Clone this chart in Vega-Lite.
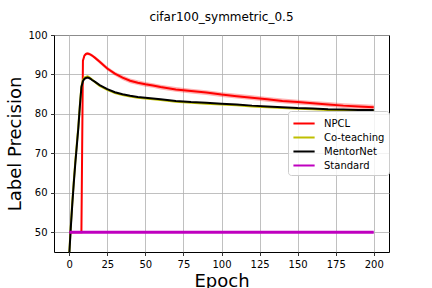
{
  "$schema": "https://vega.github.io/schema/vega-lite/v6.json",
  "width": 335,
  "height": 217,
  "autosize": {"type": "none"},
  "padding": {"left": 54, "top": 35, "right": 43, "bottom": 36},
  "title": {"text": "cifar100_symmetric_0.5", "font": "DejaVu Sans", "fontSize": 12, "fontWeight": "normal", "color": "#000", "offset": 6, "anchor": "middle"},
  "config": {
    "view": {"stroke": "#000", "strokeWidth": 1},
    "axis": {
      "domain": false, "grid": true, "gridColor": "#b0b0b0", "gridWidth": 0.8,
      "tickColor": "#000", "tickSize": 3.5, "tickWidth": 0.8,
      "labelFont": "DejaVu Sans", "labelFontSize": 10, "labelColor": "#000", "labelPadding": 3.5,
      "titleFont": "DejaVu Sans", "titleFontSize": 18, "titleFontWeight": "normal", "titleColor": "#000"
    },
    "legend": {"labelFont": "DejaVu Sans", "labelFontSize": 10, "labelColor": "#000"}
  },
  "datasets": {
    "lines": [
      {"epoch": 0, "series": "NPCL", "value": 50}, {"epoch": 1, "series": "NPCL", "value": 50}, {"epoch": 2, "series": "NPCL", "value": 50},
      {"epoch": 3, "series": "NPCL", "value": 50}, {"epoch": 4, "series": "NPCL", "value": 50}, {"epoch": 5, "series": "NPCL", "value": 50},
      {"epoch": 6, "series": "NPCL", "value": 50}, {"epoch": 7, "series": "NPCL", "value": 50}, {"epoch": 8, "series": "NPCL", "value": 50},
      {"epoch": 9, "series": "NPCL", "value": 93.5}, {"epoch": 10, "series": "NPCL", "value": 94.8}, {"epoch": 11, "series": "NPCL", "value": 95.2},
      {"epoch": 12, "series": "NPCL", "value": 95.3}, {"epoch": 13, "series": "NPCL", "value": 95.2}, {"epoch": 14, "series": "NPCL", "value": 95.0},
      {"epoch": 15, "series": "NPCL", "value": 94.8}, {"epoch": 17, "series": "NPCL", "value": 94.2}, {"epoch": 20, "series": "NPCL", "value": 93.2},
      {"epoch": 25, "series": "NPCL", "value": 91.5}, {"epoch": 30, "series": "NPCL", "value": 90.2}, {"epoch": 35, "series": "NPCL", "value": 89.2},
      {"epoch": 40, "series": "NPCL", "value": 88.4}, {"epoch": 45, "series": "NPCL", "value": 87.9}, {"epoch": 50, "series": "NPCL", "value": 87.5},
      {"epoch": 55, "series": "NPCL", "value": 87.2}, {"epoch": 60, "series": "NPCL", "value": 86.8}, {"epoch": 70, "series": "NPCL", "value": 86.2},
      {"epoch": 80, "series": "NPCL", "value": 85.8}, {"epoch": 90, "series": "NPCL", "value": 85.4}, {"epoch": 100, "series": "NPCL", "value": 84.9},
      {"epoch": 110, "series": "NPCL", "value": 84.5}, {"epoch": 120, "series": "NPCL", "value": 84.1}, {"epoch": 130, "series": "NPCL", "value": 83.7},
      {"epoch": 140, "series": "NPCL", "value": 83.3}, {"epoch": 150, "series": "NPCL", "value": 83.0}, {"epoch": 160, "series": "NPCL", "value": 82.7},
      {"epoch": 170, "series": "NPCL", "value": 82.4}, {"epoch": 180, "series": "NPCL", "value": 82.1}, {"epoch": 190, "series": "NPCL", "value": 81.9},
      {"epoch": 200, "series": "NPCL", "value": 81.7},

      {"epoch": 0, "series": "Co-teaching", "value": 44.5}, {"epoch": 1, "series": "Co-teaching", "value": 51.5}, {"epoch": 2, "series": "Co-teaching", "value": 57.5},
      {"epoch": 3, "series": "Co-teaching", "value": 63}, {"epoch": 4, "series": "Co-teaching", "value": 68}, {"epoch": 5, "series": "Co-teaching", "value": 72.5},
      {"epoch": 6, "series": "Co-teaching", "value": 77}, {"epoch": 7, "series": "Co-teaching", "value": 82.3}, {"epoch": 8, "series": "Co-teaching", "value": 87},
      {"epoch": 9, "series": "Co-teaching", "value": 88.6}, {"epoch": 10, "series": "Co-teaching", "value": 89.2}, {"epoch": 11, "series": "Co-teaching", "value": 89.4},
      {"epoch": 12, "series": "Co-teaching", "value": 89.5}, {"epoch": 13, "series": "Co-teaching", "value": 89.3}, {"epoch": 14, "series": "Co-teaching", "value": 89.0},
      {"epoch": 15, "series": "Co-teaching", "value": 88.7}, {"epoch": 17, "series": "Co-teaching", "value": 88.0}, {"epoch": 20, "series": "Co-teaching", "value": 87.1},
      {"epoch": 25, "series": "Co-teaching", "value": 86.1}, {"epoch": 30, "series": "Co-teaching", "value": 85.3}, {"epoch": 35, "series": "Co-teaching", "value": 84.8},
      {"epoch": 40, "series": "Co-teaching", "value": 84.4}, {"epoch": 45, "series": "Co-teaching", "value": 84.1}, {"epoch": 50, "series": "Co-teaching", "value": 83.9},
      {"epoch": 55, "series": "Co-teaching", "value": 83.7}, {"epoch": 60, "series": "Co-teaching", "value": 83.5}, {"epoch": 70, "series": "Co-teaching", "value": 83.1},
      {"epoch": 80, "series": "Co-teaching", "value": 82.8}, {"epoch": 90, "series": "Co-teaching", "value": 82.6}, {"epoch": 100, "series": "Co-teaching", "value": 82.4},
      {"epoch": 110, "series": "Co-teaching", "value": 82.2}, {"epoch": 120, "series": "Co-teaching", "value": 81.9}, {"epoch": 130, "series": "Co-teaching", "value": 81.7},
      {"epoch": 140, "series": "Co-teaching", "value": 81.5}, {"epoch": 150, "series": "Co-teaching", "value": 81.3}, {"epoch": 160, "series": "Co-teaching", "value": 81.2},
      {"epoch": 170, "series": "Co-teaching", "value": 81.0}, {"epoch": 180, "series": "Co-teaching", "value": 80.9}, {"epoch": 190, "series": "Co-teaching", "value": 80.8},
      {"epoch": 200, "series": "Co-teaching", "value": 80.8},

      {"epoch": 0, "series": "MentorNet", "value": 44}, {"epoch": 1, "series": "MentorNet", "value": 51}, {"epoch": 2, "series": "MentorNet", "value": 57},
      {"epoch": 3, "series": "MentorNet", "value": 62.5}, {"epoch": 4, "series": "MentorNet", "value": 67.5}, {"epoch": 5, "series": "MentorNet", "value": 72},
      {"epoch": 6, "series": "MentorNet", "value": 76.5}, {"epoch": 7, "series": "MentorNet", "value": 82}, {"epoch": 8, "series": "MentorNet", "value": 86.8},
      {"epoch": 9, "series": "MentorNet", "value": 88.3}, {"epoch": 10, "series": "MentorNet", "value": 88.9}, {"epoch": 11, "series": "MentorNet", "value": 89.1},
      {"epoch": 12, "series": "MentorNet", "value": 89.2}, {"epoch": 13, "series": "MentorNet", "value": 89.1}, {"epoch": 14, "series": "MentorNet", "value": 88.9},
      {"epoch": 15, "series": "MentorNet", "value": 88.6}, {"epoch": 17, "series": "MentorNet", "value": 88.1}, {"epoch": 20, "series": "MentorNet", "value": 87.3},
      {"epoch": 25, "series": "MentorNet", "value": 86.3}, {"epoch": 30, "series": "MentorNet", "value": 85.5}, {"epoch": 35, "series": "MentorNet", "value": 85.0},
      {"epoch": 40, "series": "MentorNet", "value": 84.6}, {"epoch": 45, "series": "MentorNet", "value": 84.3}, {"epoch": 50, "series": "MentorNet", "value": 84.1},
      {"epoch": 55, "series": "MentorNet", "value": 83.9}, {"epoch": 60, "series": "MentorNet", "value": 83.7}, {"epoch": 70, "series": "MentorNet", "value": 83.3},
      {"epoch": 80, "series": "MentorNet", "value": 83.0}, {"epoch": 90, "series": "MentorNet", "value": 82.8}, {"epoch": 100, "series": "MentorNet", "value": 82.6},
      {"epoch": 110, "series": "MentorNet", "value": 82.4}, {"epoch": 120, "series": "MentorNet", "value": 82.1}, {"epoch": 130, "series": "MentorNet", "value": 81.9},
      {"epoch": 140, "series": "MentorNet", "value": 81.7}, {"epoch": 150, "series": "MentorNet", "value": 81.5}, {"epoch": 160, "series": "MentorNet", "value": 81.4},
      {"epoch": 170, "series": "MentorNet", "value": 81.2}, {"epoch": 180, "series": "MentorNet", "value": 81.1}, {"epoch": 190, "series": "MentorNet", "value": 81.0},
      {"epoch": 200, "series": "MentorNet", "value": 81.0},

      {"epoch": 0, "series": "Standard", "value": 50}, {"epoch": 50, "series": "Standard", "value": 50}, {"epoch": 100, "series": "Standard", "value": 50},
      {"epoch": 150, "series": "Standard", "value": 50}, {"epoch": 200, "series": "Standard", "value": 50}
    ],
    "band": [
      {"epoch": 9, "lo": 93.1, "hi": 93.9}, {"epoch": 10, "lo": 94.4, "hi": 95.2}, {"epoch": 11, "lo": 94.8, "hi": 95.6},
      {"epoch": 12, "lo": 94.9, "hi": 95.7}, {"epoch": 13, "lo": 94.8, "hi": 95.6}, {"epoch": 14, "lo": 94.6, "hi": 95.4},
      {"epoch": 15, "lo": 94.4, "hi": 95.2}, {"epoch": 17, "lo": 93.8, "hi": 94.6}, {"epoch": 20, "lo": 92.7, "hi": 93.7},
      {"epoch": 25, "lo": 91.0, "hi": 92.0}, {"epoch": 30, "lo": 89.7, "hi": 90.7}, {"epoch": 35, "lo": 88.6, "hi": 89.8},
      {"epoch": 40, "lo": 87.8, "hi": 89.0}, {"epoch": 45, "lo": 87.3, "hi": 88.5}, {"epoch": 50, "lo": 86.9, "hi": 88.1},
      {"epoch": 55, "lo": 86.6, "hi": 87.8}, {"epoch": 60, "lo": 86.2, "hi": 87.4}, {"epoch": 70, "lo": 85.6, "hi": 86.8},
      {"epoch": 80, "lo": 85.2, "hi": 86.4}, {"epoch": 90, "lo": 84.8, "hi": 86.0}, {"epoch": 100, "lo": 84.3, "hi": 85.5},
      {"epoch": 110, "lo": 83.9, "hi": 85.1}, {"epoch": 120, "lo": 83.5, "hi": 84.7}, {"epoch": 130, "lo": 83.1, "hi": 84.3},
      {"epoch": 140, "lo": 82.7, "hi": 83.9}, {"epoch": 150, "lo": 82.4, "hi": 83.6}, {"epoch": 160, "lo": 82.1, "hi": 83.3},
      {"epoch": 170, "lo": 81.8, "hi": 83.0}, {"epoch": 180, "lo": 81.5, "hi": 82.7}, {"epoch": 190, "lo": 81.3, "hi": 82.5},
      {"epoch": 200, "lo": 81.1, "hi": 82.3}
    ]
  },
  "layer": [
    {
      "data": {"name": "band"},
      "mark": {"type": "area", "color": "#ff0000", "opacity": 0.3, "clip": true},
      "encoding": {
        "x": {"field": "epoch", "type": "quantitative", "scale": {"domain": [-10, 210], "nice": false, "zero": false},
              "axis": {"values": [0, 25, 50, 75, 100, 125, 150, 175, 200], "title": "Epoch", "titlePadding": 3}},
        "y": {"field": "lo", "type": "quantitative", "scale": {"domain": [45, 100], "nice": false, "zero": false},
              "axis": {"values": [50, 60, 70, 80, 90, 100], "title": "Label Precision", "titlePadding": 3}},
        "y2": {"field": "hi"}
      }
    },
    {
      "data": {"name": "lines"},
      "transform": [{"filter": "datum.series === 'NPCL'"}],
      "mark": {"type": "line", "strokeWidth": 2, "clip": true},
      "encoding": {
        "x": {"field": "epoch", "type": "quantitative"},
        "y": {"field": "value", "type": "quantitative"},
        "color": {"field": "series", "type": "nominal",
          "scale": {"domain": ["NPCL", "Co-teaching", "MentorNet", "Standard"], "range": ["#ff0000", "#bfbf00", "#000000", "#bf00bf"]},
          "legend": {"title": null, "orient": "none", "legendX": 234, "legendY": 76, "symbolType": "M-1,0H2", "symbolStrokeWidth": 2, "symbolSize": 200,
                     "fillColor": "rgba(255,255,255,0.8)", "strokeColor": "#cccccc", "padding": 4, "cornerRadius": 3, "rowPadding": 0, "labelOffset": 15}}
      }
    },
    {
      "data": {"name": "lines"},
      "transform": [{"filter": "datum.series === 'Co-teaching'"}],
      "mark": {"type": "line", "strokeWidth": 2, "clip": true},
      "encoding": {
        "x": {"field": "epoch", "type": "quantitative"},
        "y": {"field": "value", "type": "quantitative"},
        "color": {"field": "series", "type": "nominal"}
      }
    },
    {
      "data": {"name": "lines"},
      "transform": [{"filter": "datum.series === 'MentorNet'"}],
      "mark": {"type": "line", "strokeWidth": 2, "clip": true},
      "encoding": {
        "x": {"field": "epoch", "type": "quantitative"},
        "y": {"field": "value", "type": "quantitative"},
        "color": {"field": "series", "type": "nominal"}
      }
    },
    {
      "data": {"name": "lines"},
      "transform": [{"filter": "datum.series === 'Standard'"}],
      "mark": {"type": "line", "strokeWidth": 3, "clip": true},
      "encoding": {
        "x": {"field": "epoch", "type": "quantitative"},
        "y": {"field": "value", "type": "quantitative"},
        "color": {"field": "series", "type": "nominal"}
      }
    }
  ]
}
